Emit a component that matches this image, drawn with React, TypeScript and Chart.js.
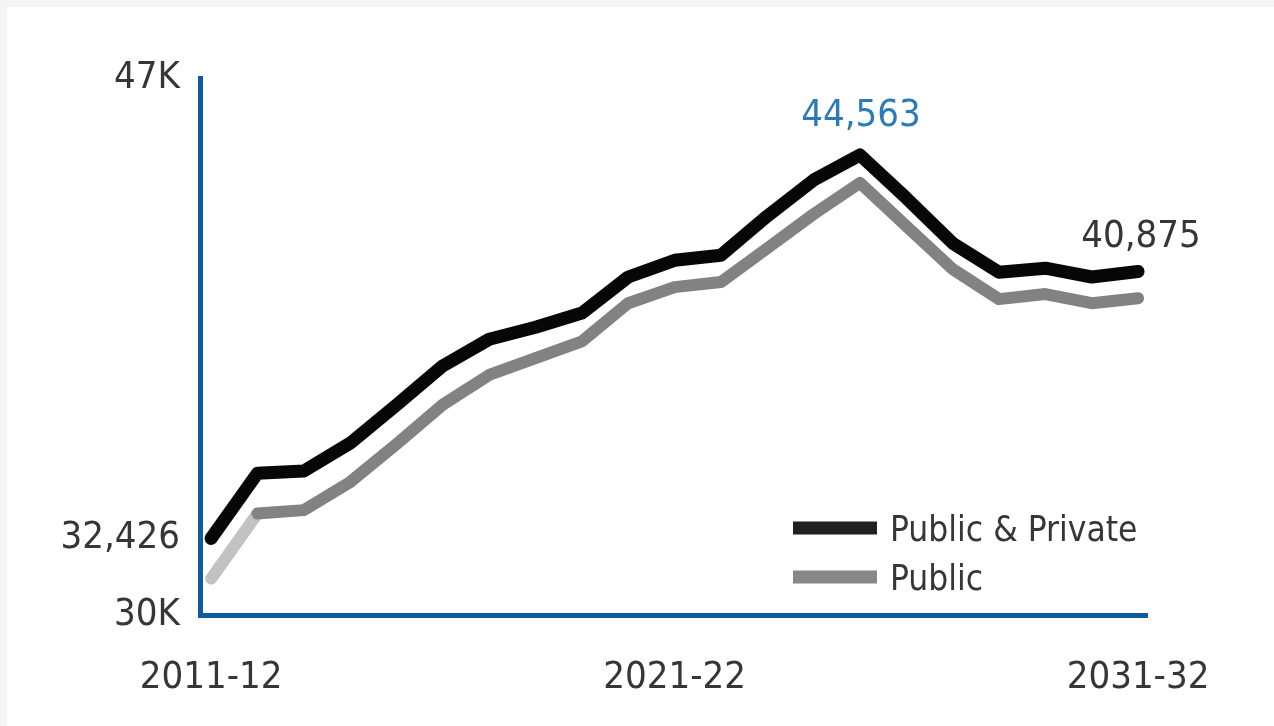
import React, { useEffect, useRef } from 'react';
import { Chart, registerables } from 'chart.js';

Chart.register(...registerables);

const years = [
  '2011-12', '2012-13', '2013-14', '2014-15', '2015-16', '2016-17', '2017-18',
  '2018-19', '2019-20', '2020-21', '2021-22', '2022-23', '2023-24', '2024-25',
  '2025-26', '2026-27', '2027-28', '2028-29', '2029-30', '2030-31', '2031-32',
];
const publicPrivate = [
  32426, 34490, 34560, 35440, 36650, 37890, 38730, 39110, 39560, 40700, 41230,
  41390, 42630, 43770, 44563, 43200, 41770, 40850, 40980, 40700, 40875,
];
const publicOnly = [
  31150, 33210, 33320, 34210, 35410, 36660, 37600, 38130, 38660, 39870, 40380,
  40540, 41610, 42690, 43680, 42310, 40950, 40000, 40160, 39870, 40030,
];
const seriesNames = ['Public & Private', 'Public'];
const xTickIndices = [0, 10, 20];
const yTickValues = [30000, 32426, 47000];
const yTickLabels = ['30K', '32,426', '47K'];
const calloutIndices = [14, 20];
const calloutLabels = ['44,563', '40,875'];

const FONT = '"DejaVu Sans Condensed", "Liberation Sans Narrow", "DejaVu Sans", sans-serif';
const AXIS_BLUE = '#0f5c9e';
const TEXT = '#363636';

const decorPlugin = {
  id: 'decor',
  beforeDraw(chart: any) {
    const { ctx, width, height } = chart;
    ctx.save();
    ctx.fillStyle = '#ffffff';
    ctx.fillRect(0, 0, width, height);
    ctx.fillStyle = '#f5f5f5';
    ctx.fillRect(0, 0, width, 7);
    ctx.fillRect(0, 0, 7, height);
    ctx.restore();
  },
  afterDatasetsDraw(chart: any) {
    const { ctx, chartArea } = chart;
    const meta = chart.getDatasetMeta(0);
    ctx.save();
    // callouts
    ctx.font = `38px ${FONT}`;
    ctx.textAlign = 'center';
    ctx.textBaseline = 'middle';
    const offs = [
      { dx: 1, dy: -39, color: '#2b7bb9' },
      { dx: 3, dy: -34, color: TEXT },
    ];
    calloutIndices.forEach((idx, k) => {
      const pt = meta.data[idx];
      ctx.fillStyle = offs[k].color;
      ctx.fillText(calloutLabels[k], pt.x + offs[k].dx, pt.y + offs[k].dy);
    });
    // legend
    const lx0 = chartArea.right - 352;
    const lx1 = chartArea.right - 268;
    const rows = [chartArea.bottom - 87, chartArea.bottom - 38];
    const colors = ['#231f20', '#898787'];
    ctx.lineCap = 'butt';
    ctx.lineWidth = 13;
    ctx.font = `35px ${FONT}`;
    ctx.textAlign = 'left';
    ctx.textBaseline = 'alphabetic';
    rows.forEach((y, k) => {
      ctx.strokeStyle = colors[k];
      ctx.beginPath();
      ctx.moveTo(lx0, y);
      ctx.lineTo(lx1, y);
      ctx.stroke();
      ctx.fillStyle = TEXT;
      ctx.fillText(seriesNames[k], chartArea.right - 255, y + 13);
    });
    ctx.restore();
  },
};

export default function App() {
  const ref = useRef<HTMLCanvasElement | null>(null);

  useEffect(() => {
    if (!ref.current) return;
    const chart = new Chart(ref.current, {
      type: 'line',
      data: {
        labels: years,
        datasets: [
          {
            label: seriesNames[0],
            data: publicPrivate.map((v, i) => ({ x: i, y: v })),
            borderColor: '#070707',
            borderWidth: 13,
            pointRadius: 0,
            borderJoinStyle: 'round',
            borderCapStyle: 'round',
            tension: 0,
            fill: false,
          },
          {
            label: seriesNames[1],
            data: publicOnly.map((v, i) => ({ x: i, y: v })),
            borderColor: '#828282',
            borderWidth: 12,
            pointRadius: 0,
            borderJoinStyle: 'round',
            borderCapStyle: 'round',
            tension: 0,
            fill: false,
            segment: {
              borderColor: (c: any) => (c.p0DataIndex === 0 ? '#c2c2c2' : undefined),
            },
          },
        ],
      },
      options: {
        animation: false,
        responsive: false,
        maintainAspectRatio: false,
        layout: { padding: { top: 78, right: 129, left: 0, bottom: 0 } },
        plugins: {
          legend: { display: false },
          tooltip: { enabled: false },
        },
        scales: {
          x: {
            type: 'linear',
            min: -0.24,
            max: 20.15,
            grid: { display: false, drawTicks: false, lineWidth: 5 },
            border: { display: true, color: AXIS_BLUE, width: 5 },
            afterBuildTicks: (s: any) => {
              s.ticks = xTickIndices.map((v) => ({ value: v }));
            },
            afterFit: (s: any) => {
              s.height = 111;
            },
            ticks: {
              padding: 40,
              color: TEXT,
              font: { family: FONT, size: 38 },
              maxRotation: 0,
              autoSkip: false,
              callback: (v: any) => years[Number(v)] ?? '',
            },
          },
          y: {
            type: 'linear',
            min: 30000,
            max: 47000,
            grid: { display: false, drawTicks: false, lineWidth: 5 },
            border: { display: true, color: AXIS_BLUE, width: 5 },
            afterBuildTicks: (s: any) => {
              s.ticks = yTickValues.map((v) => ({ value: v }));
            },
            afterFit: (s: any) => {
              s.width = 200;
            },
            ticks: {
              padding: 20,
              color: TEXT,
              font: { family: FONT, size: 38 },
              autoSkip: false,
              callback: (v: any) => {
                const i = yTickValues.indexOf(Number(v));
                return i >= 0 ? yTickLabels[i] : '';
              },
            },
          },
        },
      },
      plugins: [decorPlugin],
    });
    return () => chart.destroy();
  }, []);

  return (
    <div style={{ position: 'fixed', left: 0, top: 0, width: 1274, height: 726, background: '#fff' }}>
      <canvas ref={ref} width={1274} height={726} style={{ display: 'block', width: 1274, height: 726 }} />
    </div>
  );
}
